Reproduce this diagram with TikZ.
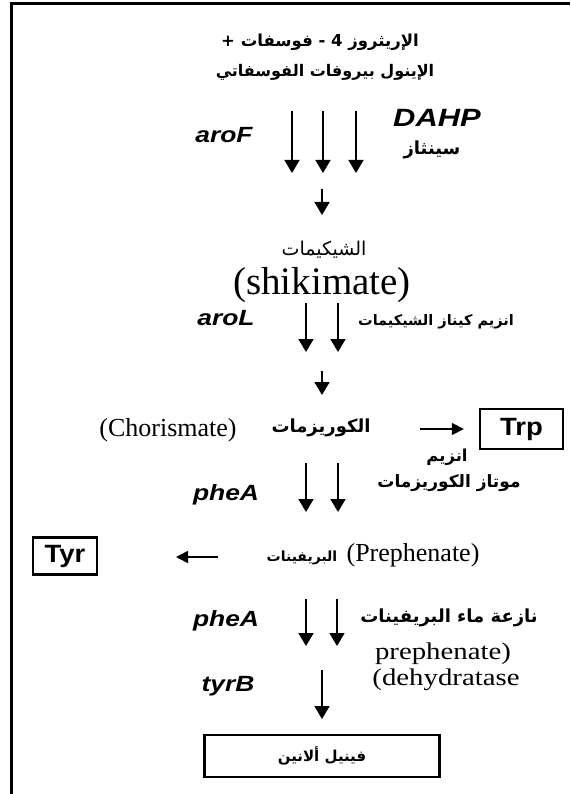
\documentclass[tikz,border=0pt]{standalone}
\usepackage{fontspec}
\setmainfont{Liberation Serif}
\newfontfamily\arab[Script=Arabic]{DejaVu Sans}
\newfontfamily\sans{Liberation Sans}
\TeXXeTstate=1
\usetikzlibrary{arrows.meta}
\tikzset{
  ar/.style={font=\arab\bfseries\fontsize{14}{17}\selectfont, inner sep=0pt},
  gene/.style={font=\sans\bfseries\itshape\fontsize{22}{26}\selectfont, inner sep=0pt, xscale=1.2},
  eng/.style={font=\fontsize{26}{28}\selectfont, inner sep=0pt},
  arr/.style={line width=1.6pt, -{Triangle[width=15pt,length=13pt]}},
  sidearr/.style={line width=1.6pt, -{Triangle[width=12pt,length=12pt]}},
  aabox/.style={draw, line width=2.4pt, inner sep=0pt},
  aatext/.style={font=\sans\bfseries\fontsize{25}{28}\selectfont, inner sep=0pt, xscale=1.1},
}
\begin{document}
\begin{tikzpicture}[x=1pt,y=1pt]
\useasboundingbox (0,0) rectangle (570,-794);
\fill[white] (0,0) rectangle (570,-794);
% frame
\draw[line width=3pt] (11,-794) -- (11,-4) -- (570,-4);

% title
\node[ar, font=\arab\bfseries\fontsize{16.5}{19}\selectfont] (t1) at (320,-42) {\beginR الإريثروز 4 - فوسفات +\endR};
\node[ar, font=\arab\bfseries\fontsize{16}{19}\selectfont] (t2) at (325,-72) {\beginR الإينول بيروفات الفوسفاتي\endR};

% aroF step
\node[gene] (aroF) at (224,-135) {aroF};
\node[gene, font=\sans\bfseries\itshape\fontsize{25}{28}\selectfont, xscale=1.03] (dahp) at (437,-118) {DAHP};
\node[ar, font=\arab\bfseries\fontsize{18}{20}\selectfont] (sinth) at (432,-150) {\beginR سينثاز\endR};
\coordinate (f1s) at (292,-111); \coordinate (f1e) at (292,-173);
\coordinate (f2s) at (323,-111); \coordinate (f2e) at (323,-173);
\coordinate (f3s) at (356,-111); \coordinate (f3e) at (356,-173);
\draw[arr] (f1s) -- (f1e);
\draw[arr] (f2s) -- (f2e);
\draw[arr] (f3s) -- (f3e);
\coordinate (s1s) at (322,-189); \coordinate (s1e) at (322,-215);
\draw[arr] (s1s) -- (s1e);

% shikimate
\node[ar, font=\arab\fontsize{19}{21}\selectfont] (shikar) at (324,-250) {\beginR الشيكيمات\endR};
\node[eng, font=\fontsize{39}{41}\selectfont] (shik) at (322,-285) {(shikimate)};

% aroL step
\node[gene] (aroL) at (226,-318) {aroL};
\node[ar, font=\arab\bfseries\fontsize{14.5}{17}\selectfont] (kin) at (436,-322) {\beginR انزيم كيناز الشيكيمات\endR};
\coordinate (l1s) at (306,-303); \coordinate (l1e) at (306,-352);
\coordinate (l2s) at (338,-303); \coordinate (l2e) at (338,-352);
\draw[arr] (l1s) -- (l1e);
\draw[arr] (l2s) -- (l2e);
\coordinate (s2s) at (322,-371); \coordinate (s2e) at (322,-395);
\draw[arr] (s2s) -- (s2e);

% chorismate
\node[eng] (chor) at (168,-430) {(Chorismate)};
\node[ar, font=\arab\bfseries\fontsize{18}{20}\selectfont] (chorar) at (321,-428) {\beginR الكوريزمات\endR};
\node[aabox, minimum width=83pt, minimum height=40pt] (trp) at (521.5,-429) {};
\node[aatext] (trpt) at (trp.center) {Trp};
\coordinate (tps) at (420,-429);
\draw[sidearr, shorten >=15pt] (tps) -- (trp.west);
\node[ar, font=\arab\bfseries\fontsize{16.5}{19}\selectfont] (enz) at (447,-457) {\beginR انزيم\endR};
\node[ar, font=\arab\bfseries\fontsize{17}{20}\selectfont] (mut) at (449,-483) {\beginR موتاز الكوريزمات\endR};

% pheA step
\node[gene] (pheA) at (226,-495) {pheA};
\coordinate (p1s) at (306,-463); \coordinate (p1e) at (306,-512);
\coordinate (p2s) at (338,-463); \coordinate (p2e) at (338,-512);
\draw[arr] (p1s) -- (p1e);
\draw[arr] (p2s) -- (p2e);

% prephenate
\node[aabox, minimum width=64pt, minimum height=37pt] (tyr) at (65,-556) {};
\node[aatext] (tyrt) at (tyr.center) {Tyr};
\coordinate (tys) at (218,-557); \coordinate (tye) at (176,-557);
\draw[sidearr] (tys) -- (tye);
\node[ar, font=\arab\bfseries\fontsize{14}{16}\selectfont] (prephar) at (302,-558) {\beginR البريفينات\endR};
\node[eng] (preph) at (413,-555) {(Prephenate)};

% pheA second step
\node[gene] (pheB) at (226,-621) {pheA};
\coordinate (q1s) at (306,-599); \coordinate (q1e) at (306,-646);
\coordinate (q2s) at (337,-599); \coordinate (q2e) at (337,-646);
\draw[arr] (q1s) -- (q1e);
\draw[arr] (q2s) -- (q2e);
\node[ar, font=\arab\bfseries\fontsize{18}{20}\selectfont] (dehar) at (449,-618) {\beginR نازعة ماء البريفينات\endR};
\node[eng, font=\fontsize{24}{26}\selectfont, xscale=1.2] (deh1) at (443,-654) {prephenate)};
\node[eng, font=\fontsize{24}{26}\selectfont, xscale=1.2] (deh2) at (446,-680) {(dehydratase};

% tyrB
\node[gene] (tyrB) at (228,-686) {tyrB};
\coordinate (ts) at (322,-670); \coordinate (te) at (322,-719);
\draw[arr] (ts) -- (te);

% final product
\node[draw, line width=2.4pt, minimum width=235pt, minimum height=42pt, ar, font=\arab\bfseries\fontsize{15}{18}\selectfont] (phe) at (322,-756) {\beginR فينيل ألانين\endR};
\end{tikzpicture}
\end{document}
